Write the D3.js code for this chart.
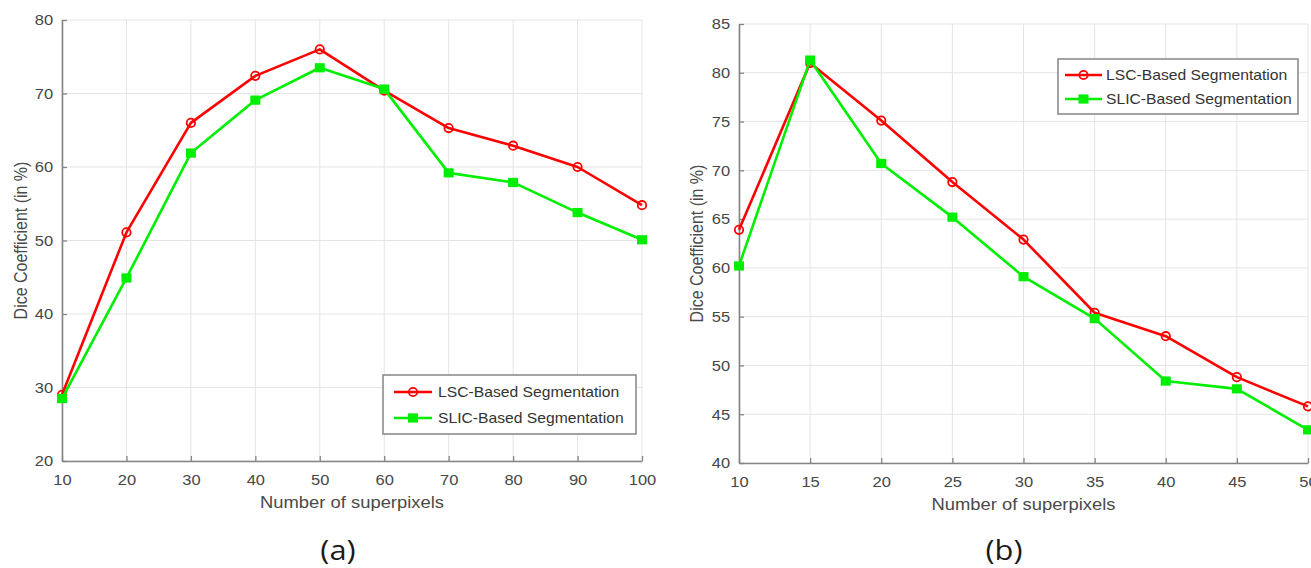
<!DOCTYPE html>
<html>
<head>
<meta charset="utf-8">
<script src="https://cdn.jsdelivr.net/npm/d3@7"></script>
<style>
  body { margin: 0; background: #fff; }
  svg { display: block; }
</style>
</head>
<body>
<svg id="fig" width="1311" height="568"></svg>
<script>
// ---- data: panel (a) ----
const superpixelsA = [10, 20, 30, 40, 50, 60, 70, 80, 90, 100];
const lscDiceA     = [29.0, 51.1, 66.0, 72.4, 76.0, 70.4, 65.3, 62.9, 60.0, 54.8];
const slicDiceA    = [28.5, 44.9, 61.9, 69.1, 73.5, 70.6, 59.2, 57.9, 53.8, 50.1];
const yTicksA      = [20, 30, 40, 50, 60, 70, 80];
const xTicksA      = [10, 20, 30, 40, 50, 60, 70, 80, 90, 100];

// ---- data: panel (b) ----
const superpixelsB = [10, 15, 20, 25, 30, 35, 40, 45, 50];
const lscDiceB     = [63.9, 81.0, 75.1, 68.8, 62.9, 55.4, 53.0, 48.8, 45.8];
const slicDiceB    = [60.2, 81.3, 70.7, 65.2, 59.1, 54.8, 48.4, 47.6, 43.4];
const yTicksB      = [40, 45, 50, 55, 60, 65, 70, 75, 80, 85];
const xTicksB      = [10, 15, 20, 25, 30, 35, 40, 45, 50];

const seriesNames  = ["LSC-Based Segmentation", "SLIC-Based Segmentation"];
const xTitle = "Number of superpixels";
const yTitle = "Dice Coefficient (in %)";

const RED = "#ff0000", GREEN = "#00ee00";
const FONT = "'Liberation Sans', Arial, sans-serif";
const STRETCH = 1.1;   // the figure's lettering is set slightly wide

const svg = d3.select("#fig");

function drawMarker(g, kind, cx, cy) {
  if (kind === "circle") {
    g.append("circle").attr("cx", cx).attr("cy", cy).attr("r", 4.2)
      .attr("fill", "none").attr("stroke", RED).attr("stroke-width", 1.8);
  } else {
    g.append("rect").attr("x", cx - 5).attr("y", cy - 4.6)
      .attr("width", 10).attr("height", 9.2).attr("fill", GREEN);
  }
}

function drawPanel(cfg) {
  const { left, right, top, bottom } = cfg.box;
  const x = d3.scaleLinear().domain(cfg.xDomain).range([left, right]);
  const y = d3.scaleLinear().domain(cfg.yDomain).range([bottom, top]);
  const g = svg.append("g");

  // grid
  const grid = g.append("g").attr("stroke", "#e4e4e4").attr("stroke-width", 1);
  cfg.xTicks.forEach(v => grid.append("line")
    .attr("x1", x(v)).attr("x2", x(v)).attr("y1", top).attr("y2", bottom));
  cfg.yTicks.forEach(v => grid.append("line")
    .attr("x1", left).attr("x2", right).attr("y1", y(v)).attr("y2", y(v)));

  // axes
  const xAxis = d3.axisBottom(x).tickValues(cfg.xTicks).tickFormat(d3.format("d"))
    .tickSize(-5).tickSizeOuter(0).tickPadding(13.5);
  const yAxis = d3.axisLeft(y).tickValues(cfg.yTicks).tickFormat(d3.format("d"))
    .tickSize(-5).tickSizeOuter(0).tickPadding(8);

  const gx = g.append("g").attr("transform", `translate(0,${bottom})`).call(xAxis);
  const gy = g.append("g").attr("transform", `translate(${left},0)`).call(yAxis);
  [gx, gy].forEach(ax => {
    ax.select(".domain").attr("stroke", "#858585").attr("stroke-width", 1.6);
    ax.selectAll(".tick line").attr("stroke", "#858585").attr("stroke-width", 1.3);
    ax.selectAll(".tick text")
      .attr("fill", "#474747").attr("font-size", 15).attr("font-family", FONT)
      .attr("transform", `scale(${STRETCH},1)`);
  });

  // axis titles
  g.append("text")
    .attr("transform", `translate(${(left + right) / 2},${cfg.xTitleY}) scale(1.15,1)`)
    .attr("text-anchor", "middle").attr("font-family", FONT).attr("font-size", 16)
    .attr("fill", "#4a4a4a").text(xTitle);
  g.append("text")
    .attr("transform", `translate(${cfg.yTitleX},${(top + bottom) / 2}) scale(1.12,1) rotate(-90)`)
    .attr("text-anchor", "middle").attr("font-family", FONT).attr("font-size", 16)
    .attr("fill", "#4a4a4a").text(yTitle);

  // series
  const line = d3.line().x(d => x(d[0])).y(d => y(d[1]));
  const series = [
    { vals: cfg.lsc,  color: RED,   marker: "circle" },
    { vals: cfg.slic, color: GREEN, marker: "square" }
  ];
  series.forEach(s => {
    const pts = cfg.xs.map((v, i) => [v, s.vals[i]]);
    g.append("path").datum(pts).attr("d", line)
      .attr("fill", "none").attr("stroke", s.color).attr("stroke-width", 2.6)
      .attr("stroke-linejoin", "round");
    const mg = g.append("g");
    pts.forEach(p => drawMarker(mg, s.marker, x(p[0]), y(p[1])));
  });

  // legend
  const L = cfg.legend;
  const lg = g.append("g").attr("transform", `translate(${L.x},${L.y})`);
  lg.append("rect").attr("width", L.w).attr("height", L.h)
    .attr("fill", "#fff").attr("stroke", "#8c8c8c").attr("stroke-width", 1.6);
  series.forEach((s, i) => {
    const ry = L.rows[i];
    lg.append("line").attr("x1", L.s0).attr("x2", L.s1).attr("y1", ry).attr("y2", ry)
      .attr("stroke", s.color).attr("stroke-width", 2.6);
    drawMarker(lg, s.marker, (L.s0 + L.s1) / 2, ry);
    lg.append("text")
      .attr("transform", `translate(${L.tx},${ry}) scale(1.12,1)`)
      .attr("dy", "0.36em").attr("font-family", FONT).attr("font-size", 14)
      .attr("fill", "#333").text(seriesNames[i]);
  });

  // caption
  svg.append("text")
    .attr("transform", `translate(${cfg.captionX},560) scale(1.1,1)`)
    .attr("text-anchor", "middle").attr("font-family", "'Open Sans', sans-serif")
    .attr("font-size", 28).attr("fill", "#1a1a1a").text(cfg.caption);
}

drawPanel({
  box: { left: 62, right: 642, top: 20, bottom: 461 },
  xDomain: [10, 100], yDomain: [20, 80],
  xTicks: xTicksA, yTicks: yTicksA,
  xs: superpixelsA, lsc: lscDiceA, slic: slicDiceA,
  xTitleY: 508, yTitleX: 27,
  legend: { x: 383, y: 375, w: 253, h: 59, rows: [17, 43], s0: 11, s1: 49, tx: 55 },
  caption: "(a)", captionX: 338
});

drawPanel({
  box: { left: 739, right: 1308, top: 24, bottom: 463 },
  xDomain: [10, 50], yDomain: [40, 85],
  xTicks: xTicksB, yTicks: yTicksB,
  xs: superpixelsB, lsc: lscDiceB, slic: slicDiceB,
  xTitleY: 510, yTitleX: 703,
  legend: { x: 1058, y: 59, w: 240, h: 55, rows: [16, 40], s0: 7, s1: 44, tx: 48 },
  caption: "(b)", captionX: 1004
});
</script>
</body>
</html>
